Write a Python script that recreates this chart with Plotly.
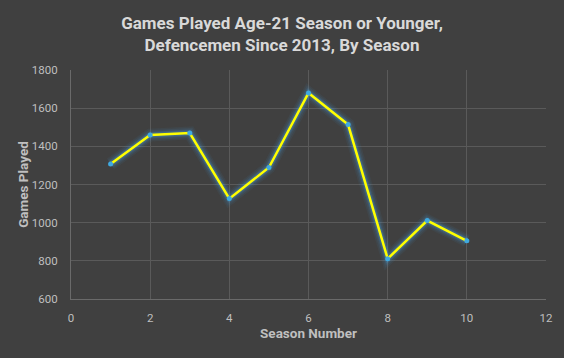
import plotly.graph_objects as go

season = [1, 2, 3, 4, 5, 6, 7, 8, 9, 10]
games = [1307, 1459, 1470, 1126, 1289, 1680, 1514, 811, 1011, 905]
x_ticks = [0, 2, 4, 6, 8, 10, 12]
y_ticks = [600, 800, 1000, 1200, 1400, 1600, 1800]

fig = go.Figure()
# soft glow around the line
for w, a in [(13, 0.06), (10, 0.08), (7, 0.12), (5, 0.2)]:
    fig.add_trace(go.Scatter(x=season, y=games, mode="lines",
                             line=dict(color=f"rgba(70,170,240,{a})", width=w),
                             hoverinfo="skip", showlegend=False))
fig.add_trace(go.Scatter(x=season, y=games, mode="lines+markers",
                         line=dict(color="#FFFF00", width=2.5),
                         marker=dict(color="#3fa9e0", size=5),
                         showlegend=False))

font_fam = "Roboto, Liberation Sans, sans-serif"
tick_col = "#bfbfbf"
fig.update_layout(
    width=564, height=358,
    paper_bgcolor="#404040", plot_bgcolor="#404040",
    margin=dict(l=71, r=18, t=70, b=59, autoexpand=False),
    title=dict(text="<b>Games Played Age-21 Season or Younger,<br>Defencemen Since 2013, By Season</b>",
               x=0.5, xanchor="center", y=0.92, yanchor="middle",
               font=dict(family=font_fam, size=17, color="#d9d9d9")),
    xaxis=dict(range=[0, 12], tickvals=x_ticks, showgrid=True, gridcolor="#5a5a5a",
               zeroline=False, showline=True, linecolor="#6a6a6a",
               ticks="outside", ticklen=8, tickcolor="rgba(0,0,0,0)",
               tickfont=dict(family=font_fam, size=11.5, color=tick_col),
               title=dict(text="<b>Season Number</b>", standoff=4,
                          font=dict(family=font_fam, size=13.5, color=tick_col))),
    yaxis=dict(range=[600, 1800], tickvals=y_ticks, showgrid=True, gridcolor="#5a5a5a",
               zeroline=False, showline=True, linecolor="#6a6a6a",
               ticks="outside", ticklen=10, tickcolor="rgba(0,0,0,0)",
               tickfont=dict(family=font_fam, size=11.5, color=tick_col),
               title=dict(text="<b>Games Played</b>", standoff=0,
                          font=dict(family=font_fam, size=13.5, color=tick_col))),
)
fig.write_html("out.html", config={"displayModeBar": False},
               post_script="document.body.style.margin='0';document.body.style.padding='0';")
